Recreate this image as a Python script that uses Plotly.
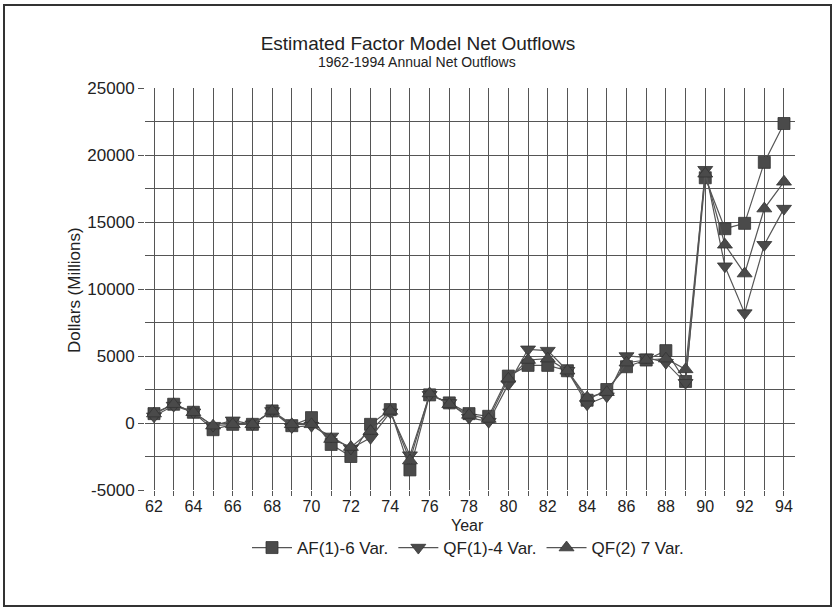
import plotly.graph_objects as go

years = list(range(62, 95))
af1 = [700, 1400, 800, -500, -100, -100, 900, -200, 400, -1600, -2500, -100, 1000, -3500,
       2100, 1500, 700, 500, 3500, 4300, 4300, 3900, 1700, 2500, 4200, 4700, 5400, 3100,
       18300, 14500, 14900, 19450, 22350]
qf1 = [500, 1300, 800, -200, 200, -100, 900, -300, -200, -1000, -1900, -1100, 800, -2400,
       2100, 1500, 400, 100, 2900, 5500, 5400, 3900, 1400, 2000, 5000, 4900, 4500, 3000,
       18900, 11700, 8200, 13300, 16000]
qf2 = [700, 1400, 800, -200, -100, -100, 900, -100, -100, -1200, -1800, -600, 900, -2800,
       2200, 1400, 600, 300, 3300, 4700, 4800, 3900, 1900, 2300, 4500, 4700, 4800, 4000,
       18600, 13300, 11150, 16000, 18000]
series_names = ["AF(1)-6 Var.", "QF(1)-4 Var.", "QF(2) 7 Var."]
series_symbols = ["square", "triangle-down", "triangle-up"]
x_ticks = list(range(62, 95, 2))
y_ticks = list(range(-5000, 25001, 5000))

FONT = "Liberation Sans, Arial, sans-serif"
INK = "#222222"
MARK = "#4a4a4a"
GRID = "#555555"

fig = go.Figure()
for name, vals, sym in zip(series_names, [af1, qf1, qf2], series_symbols):
    fig.add_trace(go.Scatter(
        x=years, y=vals, name=name, mode="lines+markers",
        line=dict(color="#555555", width=1.2),
        marker=dict(symbol=sym, size=12 if sym == "square" else 13, color=MARK,
                    line=dict(color="#333333", width=0.8)),
    ))

fig.update_layout(
    width=834, height=616,
    margin=dict(l=145, r=39, t=88, b=126),
    paper_bgcolor="white", plot_bgcolor="white",
    font=dict(family=FONT, color=INK, size=16),
    title=dict(text="Estimated Factor Model Net Outflows", x=418 / 834, xref="container",
               y=1 - 43 / 616, yref="container", xanchor="center", yanchor="middle",
               font=dict(size=19, color=INK, family=FONT)),
    showlegend=True,
    legend=dict(orientation="h", x=(468 - 145) / 650, y=(490 - 548) / 402,
                xanchor="center", yanchor="middle",
                font=dict(size=17, color=INK), itemwidth=40, bgcolor="rgba(0,0,0,0)",
                traceorder="normal"),
    xaxis=dict(range=[61.543, 94.559], tickmode="array", tickvals=x_ticks,
               ticktext=[str(v) for v in x_ticks], showgrid=True, gridcolor=GRID, gridwidth=1.3,
               ticks="outside", ticklen=5, tickcolor=GRID, tickwidth=1.3,
               ticklabelstandoff=-3,
               minor=dict(dtick=1, tick0=63, showgrid=True, gridcolor=GRID, gridwidth=1.3,
                          ticks="outside", ticklen=5, tickcolor=GRID, tickwidth=1.3),
               showline=False, zeroline=False, tickfont=dict(size=16, color=INK)),
    yaxis=dict(range=[-5000, 25000], tickmode="array", tickvals=y_ticks,
               ticktext=[str(v) for v in y_ticks], showgrid=True, gridcolor=GRID, gridwidth=1.3,
               ticks="outside", ticklen=6, tickcolor=GRID, tickwidth=1.3,
               minor=dict(dtick=5000, tick0=2500, showgrid=True, gridcolor=GRID, gridwidth=1.3,
                          ticks=""),
               showline=False, zeroline=False, tickfont=dict(size=17, color=INK)),
)

fig.add_annotation(text="1962-1994 Annual Net Outflows", xref="paper", yref="paper",
                   x=(417 - 145) / 650, y=(490 - 62) / 402, showarrow=False,
                   xanchor="center", yanchor="middle", font=dict(size=14, color=INK))
fig.add_annotation(text="Year", xref="paper", yref="paper",
                   x=(467 - 145) / 650, y=(490 - 525) / 402, showarrow=False,
                   xanchor="center", yanchor="middle", font=dict(size=16, color=INK))
fig.add_annotation(text="Dollars (Millions)", xref="paper", yref="paper",
                   x=(74 - 145) / 650, y=(490 - 290) / 402, showarrow=False, textangle=-90,
                   xanchor="center", yanchor="middle", font=dict(size=17, color=INK))
fig.add_shape(type="rect", xref="paper", yref="paper",
              x0=(4 - 145) / 650, x1=(831 - 145) / 650,
              y0=(490 - 606) / 402, y1=(490 - 5) / 402,
              line=dict(color="#333333", width=2), fillcolor="rgba(0,0,0,0)", layer="below")

fig.write_html("out.html", config={"displayModeBar": False},
               post_script="document.body.style.margin='0';")
